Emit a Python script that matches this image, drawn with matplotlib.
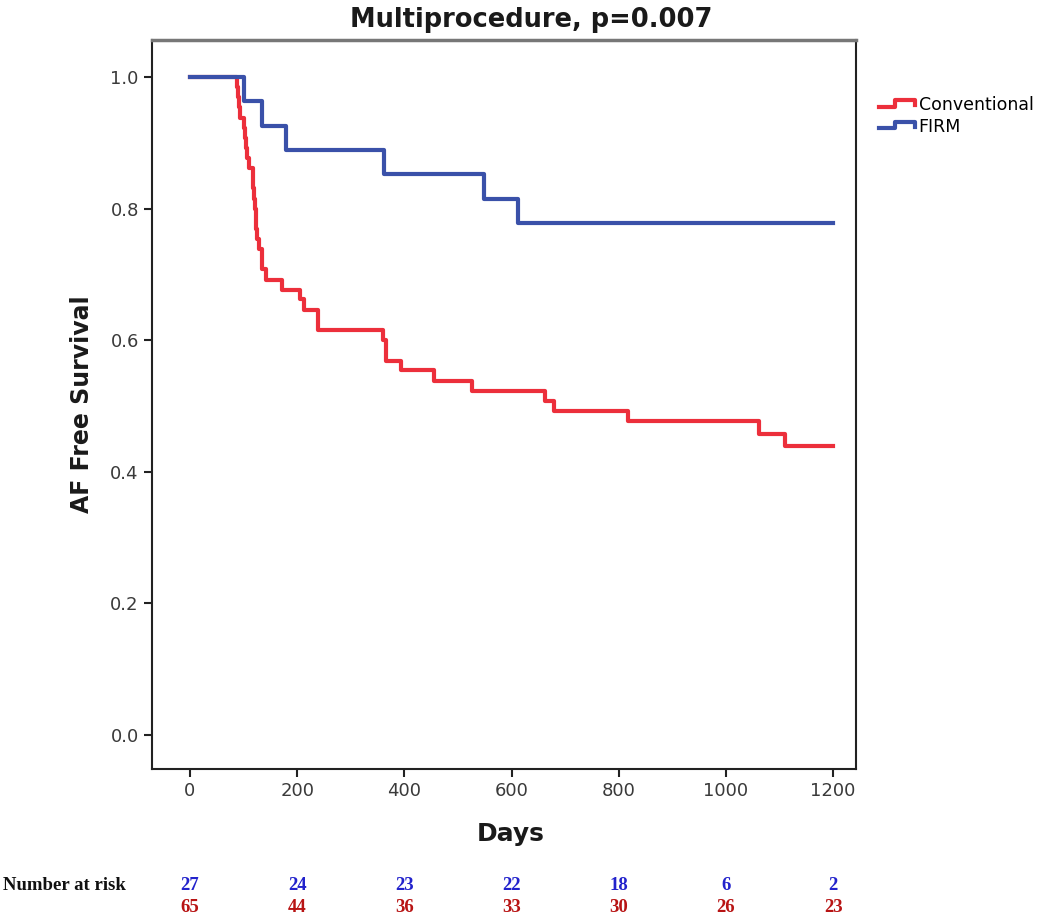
import matplotlib
matplotlib.use('Agg')
import matplotlib.pyplot as plt
import matplotlib.transforms as mtransforms
from matplotlib.legend_handler import HandlerBase
from matplotlib.lines import Line2D

# Kaplan-Meier steps (days, survival after the step)
firm_days = [0, 100, 134, 180, 363, 549, 612, 1200]
firm_surv = [1.0, 0.963, 0.926, 0.889, 0.852, 0.815, 0.778, 0.778]

conv_days = [0, 88, 90, 92, 93, 100, 102, 104, 106, 110,
             117, 118, 120, 121, 123, 124, 126, 128, 134, 142,
             171, 205, 212, 238, 361, 366, 394, 456, 526, 662,
             679, 817, 1062, 1111, 1200]
conv_surv = [1.0, 0.985, 0.969, 0.954, 0.938, 0.923, 0.908, 0.892, 0.877, 0.862,
             0.846, 0.831, 0.815, 0.800, 0.785, 0.769, 0.754, 0.738, 0.708, 0.692,
             0.677, 0.662, 0.646, 0.615, 0.600, 0.569, 0.554, 0.538, 0.523, 0.508,
             0.492, 0.477, 0.457, 0.439, 0.439]

risk_days = [0, 200, 400, 600, 800, 1000, 1200]
risk_firm = [27, 24, 23, 22, 18, 6, 2]
risk_conv = [65, 44, 36, 33, 30, 26, 23]

red = '#ec2f3b'
blue = '#3a51a9'


class StepHandler(HandlerBase):
    # legend key drawn as a little step, like SPSS does
    def create_artists(self, legend, orig, xd, yd, w, h, fs, trans):
        xs = [xd, xd + w * 0.45, xd + w * 0.45, xd + w, xd + w]
        ys = [yd + h * 0.3, yd + h * 0.3, yd + h * 0.85, yd + h * 0.85, yd + h * 0.45]
        ln = Line2D(xs, ys, color=orig.get_color(), lw=orig.get_linewidth(), transform=trans)
        return [ln]


fig = plt.figure(figsize=(10.5, 9.19), dpi=100)
ax = fig.add_axes([0.1448, 0.1632, 0.6705, 0.7933])

l1, = ax.step(conv_days, conv_surv, where='post', color=red, lw=3, label='Conventional')
l2, = ax.step(firm_days, firm_surv, where='post', color=blue, lw=3, label='FIRM')

ax.set_xlim(-70.7, 1242.8)
ax.set_ylim(-0.0518, 1.0564)
ax.set_xticks(risk_days)
ax.set_yticks([0.0, 0.2, 0.4, 0.6, 0.8, 1.0])
ax.set_yticklabels(['0.0', '0.2', '0.4', '0.6', '0.8', '1.0'])
ax.tick_params(direction='out', length=6, width=1.5, labelsize=13, labelcolor='#3a3a3a', colors='#222222')
for s in ['left', 'bottom', 'right']:
    ax.spines[s].set_color('#222222')
    ax.spines[s].set_linewidth(1.5)
ax.spines['top'].set_color('#777777')
ax.spines['top'].set_linewidth(2.5)

ax.set_title('Multiprocedure, p=0.007', fontsize=18.5, fontweight='bold', color='#1a1a1a',
             pad=9, x=0.538)
ax.set_ylabel('AF Free Survival', fontsize=17, fontweight='bold', color='#1a1a1a', labelpad=12)
ax.set_xlabel('Days', fontsize=18, fontweight='bold', color='#1a1a1a', labelpad=16, x=0.51)

leg = fig.legend([l1, l2], ['Conventional', 'FIRM'], loc='upper left',
                 bbox_to_anchor=(0.822, 0.912), frameon=False, fontsize=12.5,
                 handlelength=2.1, handletextpad=0.2, labelspacing=0.2,
                 handler_map={Line2D: StepHandler()})

# number at risk table under the axis
tr = mtransforms.blended_transform_factory(ax.transData, fig.transFigure)
fig.text(0.003, 1 - 885 / 919, 'Number at risk', fontsize=13.5, fontweight='bold',
         family='Liberation Serif', va='center', ha='left', color='#111111')
for d, nf, nc in zip(risk_days, risk_firm, risk_conv):
    ax.text(d, 1 - 885 / 919, str(nf), transform=tr, ha='center', va='center',
            fontsize=13.5, fontweight='bold', family='Liberation Serif', color='#2222cc')
    ax.text(d, 1 - 908 / 919, str(nc), transform=tr, ha='center', va='center',
            fontsize=13.5, fontweight='bold', family='Liberation Serif', color='#b81414')

fig.savefig('out.png', dpi=100)
